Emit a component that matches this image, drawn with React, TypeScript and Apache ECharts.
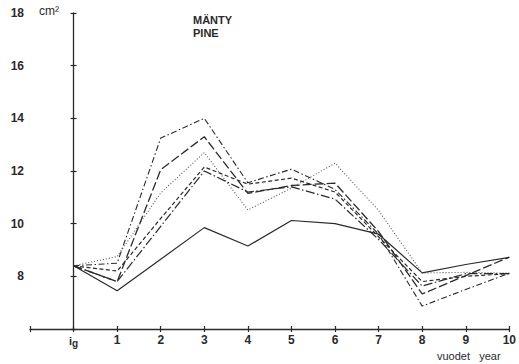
import React, { useEffect, useRef } from "react";
import * as echarts from "echarts";

const xLabels = ["ig", "1", "2", "3", "4", "5", "6", "7", "8", "9", "10"];
const xPositions = [0, 1, 2, 3, 4, 5, 6, 7, 8, 9, 10];
const yTicks = [8, 10, 12, 14, 16, 18];

const solidSeries = [8.4, 7.45, 8.65, 9.85, 9.15, 10.12, 10.0, 9.6, 8.13, 8.45, 8.72];
const dashDotSeries = [8.4, 8.5, 13.25, 14.0, 11.55, 12.07, 11.3, 9.6, 6.87, 7.5, 8.12];
const longDashSeries = [8.4, 7.8, 12.05, 13.3, 11.15, 11.45, 11.54, 9.7, 7.33, 8.03, 8.73];
const dottedSeries = [8.4, 8.75, 11.17, 12.7, 10.52, 11.35, 12.3, 10.5, 8.13, 8.15, 8.12];
const shortDashSeries = [8.4, 8.2, 10.2, 12.15, 11.5, 11.73, 11.2, 9.5, 7.8, 8.0, 8.1];
const dashDotLongSeries = [8.4, 7.8, 9.9, 12.0, 11.2, 11.4, 10.93, 9.4, 7.63, 8.1, 8.1];

const FONT = "Liberation Sans, Arial, sans-serif";
const INK = "#2a2a2a";

function pairs(vals: number[]) {
  return vals.map((v, i) => [xPositions[i], v]);
}

export default function App() {
  const ref = useRef<HTMLDivElement>(null);
  useEffect(() => {
    if (!ref.current) return;
    const chart = echarts.init(ref.current, undefined, { renderer: "svg" });
    const mk = (name: string, vals: number[], type: any, color = INK, width = 1.2) => ({
      name,
      type: "line",
      data: pairs(vals),
      symbol: "none",
      xAxisIndex: 0,
      yAxisIndex: 0,
      lineStyle: { color, width, type },
      z: 3,
    });
    const xCommon = {
      type: "value",
      min: -1,
      max: 10,
      interval: 1,
      position: "bottom",
      splitLine: { show: false },
    };
    const yCommon = {
      type: "value",
      min: 6,
      max: 18,
      interval: 2,
      position: "left",
      splitLine: { show: false },
    };
    chart.setOption({
      animation: false,
      grid: { left: 30, right: 6, top: 13, bottom: 35, containLabel: false },
      xAxis: [
        {
          ...xCommon,
          axisLine: { show: true, lineStyle: { color: INK, width: 1.3 } },
          axisTick: { show: true, inside: false, length: 3, lineStyle: { color: INK, width: 1.2 } },
          axisLabel: {
            margin: 5,
            color: INK,
            fontFamily: FONT,
            fontSize: 12,
            fontWeight: "bold",
            formatter: (v: number) => {
              const idx = xPositions.indexOf(v);
              if (idx < 0) return "";
              if (idx === 0) return "{i|i}{g|g}";
              return xLabels[idx];
            },
            rich: {
              i: { fontSize: 11, fontFamily: FONT, color: INK },
              g: { fontSize: 10, fontFamily: FONT, color: INK, padding: [4, 0, 0, 0] },
            },
          },
        },
        {
          ...xCommon,
          axisLine: { show: false },
          axisTick: { show: true, inside: true, length: 3, lineStyle: { color: INK, width: 1.2 } },
          axisLabel: { show: false },
        },
      ],
      yAxis: [
        {
          ...yCommon,
          axisLine: { show: true, lineStyle: { color: INK, width: 1.3 } },
          axisTick: { show: true, inside: false, length: 3, lineStyle: { color: INK, width: 1.2 } },
          axisLabel: {
            margin: 6,
            color: INK,
            fontFamily: FONT,
            fontSize: 12,
            fontWeight: "bold",
            formatter: (v: number) => (yTicks.includes(v) ? String(v) : ""),
          },
        },
        {
          ...yCommon,
          axisLine: { show: false },
          axisTick: { show: true, inside: true, length: 3, lineStyle: { color: INK, width: 1.2 } },
          axisLabel: { show: false },
        },
      ],
      graphic: [
        {
          type: "text",
          left: 39,
          top: 5,
          style: { text: "cm²", fontFamily: FONT, fontSize: 12, fill: INK },
        },
        {
          type: "text",
          left: 193,
          top: 14,
          style: { text: "MÄNTY", fontFamily: FONT, fontSize: 11, fontWeight: "bold", fill: INK },
        },
        {
          type: "text",
          left: 193,
          top: 27,
          style: { text: "PINE", fontFamily: FONT, fontSize: 11, fontWeight: "bold", fill: INK },
        },
        {
          type: "text",
          left: 437,
          top: 350,
          style: { text: "vuodet   year", fontFamily: FONT, fontSize: 11, fill: INK },
        },
      ],
      series: [
        mk("solid", solidSeries, "solid", INK, 1.2),
        mk("dashdot", dashDotSeries, [6, 2.5, 1.5, 2.5], INK, 1.1),
        mk("longdash", longDashSeries, [9, 3], INK, 1.3),
        mk("dotted", dottedSeries, [1, 2], "#555", 1.1),
        mk("shortdash", shortDashSeries, [4, 2.5], INK, 1.2),
        mk("dashdotlong", dashDotLongSeries, [9, 2.5, 1.5, 2.5], INK, 1.2),
      ],
    });
    return () => chart.dispose();
  }, []);
  return (
    <div
      ref={ref}
      style={{ position: "fixed", left: 0, top: 0, width: 519, height: 364, background: "#fff" }}
    />
  );
}
